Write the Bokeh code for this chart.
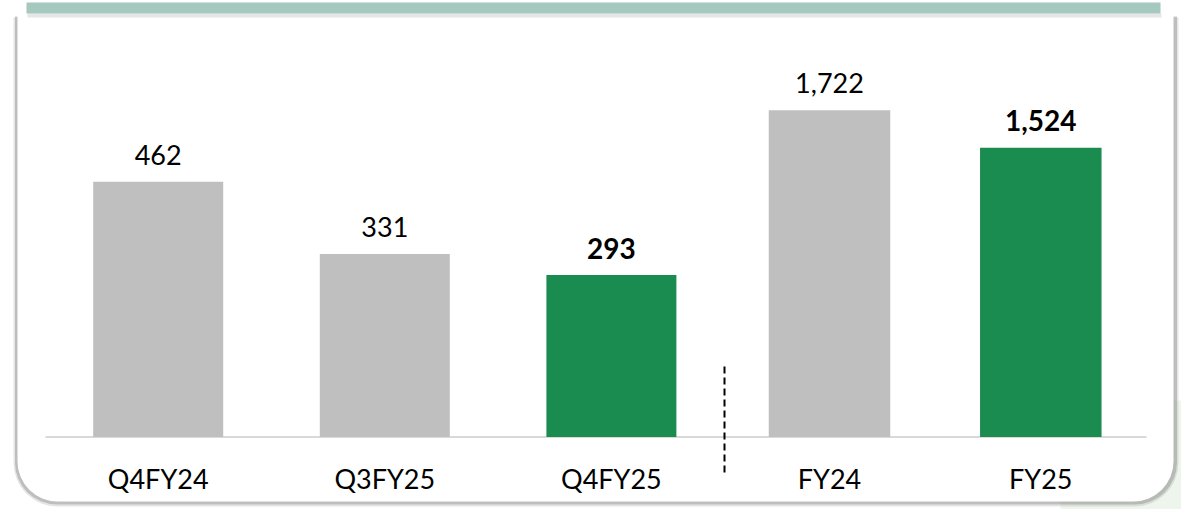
from bokeh.plotting import figure
from bokeh.models import Range1d, ColumnDataSource, BoxAnnotation
from bokeh.core.properties import value
from bokeh.embed import file_html
from bokeh.resources import INLINE

# ---------------- data ----------------
quarter_labels = ["Q4FY24", "Q3FY25", "Q4FY25"]
quarter_values = [462, 331, 293]
annual_labels = ["FY24", "FY25"]
annual_values = [1722, 1524]
highlight = ["Q4FY25", "FY25"]

# ---------------- style / layout ----------------
W, H = 1181, 509
GRAY = "#bfbfbf"
GREEN = "#1b8c50"
FONT = "Lato"

baseline_px = 436.5          # canvas y (from top) of the zero line
q_scale = 0.5525             # px per unit, quarterly panel
a_scale = 0.1898             # px per unit, annual panel
q_center0, q_step, q_bar_px = 157.7, 226.6, 130.0
a_center0, a_step, a_bar_px = 829.0, 211.3, 121.5

p = figure(width=W, height=H, output_backend="svg", toolbar_location=None,
           x_range=Range1d(-q_center0 / q_step, (W - q_center0) / q_step),
           y_range=Range1d(-(H - baseline_px) / q_scale, baseline_px / q_scale),
           x_axis_location=None, y_axis_location=None, min_border=0)
p.extra_x_ranges = {"annual": Range1d(-a_center0 / a_step, (W - a_center0) / a_step),
                    "px": Range1d(0, W)}
p.extra_y_ranges = {"annual": Range1d(-(H - baseline_px) / a_scale, baseline_px / a_scale),
                    "px": Range1d(0, H)}
p.grid.grid_line_color = None
p.outline_line_color = None
p.background_fill_color = "white"
p.border_fill_color = "white"


def cy(v):
    return H - v


def box(l, r, t, b, color, alpha=1.0, radius=0):
    p.add_layout(BoxAnnotation(left=l, right=r, top=cy(t), bottom=cy(b),
                               fill_color=color, fill_alpha=alpha, line_color=None,
                               border_radius=radius, level="underlay",
                               x_range_name="px", y_range_name="px"))


# page decoration: faint tint outside card, card shadow, card, header band
box(1060, W, 400, H, "#eef5ec")
box(13, 1178, 17, 506, "#b5b5b5", 0.35, (0, 0, 44, 44))
box(14.5, 1176.5, 16, 504, "#8f8f8f", 0.45, (0, 0, 42, 42))
box(17, 1173, 14, 501, "white", 1.0, (0, 0, 40, 40))
box(27, 1161, 13, 17, "#9a9a9a", 0.25)
box(26, 1160, 2, 13, "#a5c8bf")

# zero line and separator
p.segment(x0=[45], y0=[cy(baseline_px)], x1=[1146], y1=[cy(baseline_px)],
          line_color="#d9d9d9", line_width=2, x_range_name="px", y_range_name="px")
p.segment(x0=[724], y0=[cy(366)], x1=[724], y1=[cy(472)],
          line_color="black", line_width=2, line_dash="7 4",
          x_range_name="px", y_range_name="px")


def panel(labels, values, bar_width, xr, yr):
    src = ColumnDataSource(dict(
        x=list(range(len(labels))),
        top=values,
        cat=labels,
        color=[GREEN if c in highlight else GRAY for c in labels],
    ))
    kw = {}
    if xr:
        kw = dict(x_range_name=xr, y_range_name=yr)
    p.vbar(x="x", top="top", bottom=0, width=bar_width, fill_color="color",
           line_color=None, source=src, **kw)
    # category labels
    p.text(x="x", y=0, text="cat", source=src, text_font=value(FONT),
           text_font_size="27px", text_color="black", text_align="center",
           text_baseline="alphabetic", y_offset=41.5, **kw)
    # value labels
    reg = ColumnDataSource(dict(x=[i for i, c in enumerate(labels) if c not in highlight],
                                y=[v for c, v in zip(labels, values) if c not in highlight],
                                t=[f"{v:,}" for c, v in zip(labels, values) if c not in highlight]))
    bold = ColumnDataSource(dict(x=[i for i, c in enumerate(labels) if c in highlight],
                                 y=[v for c, v in zip(labels, values) if c in highlight],
                                 t=[f"{v:,}" for c, v in zip(labels, values) if c in highlight]))
    p.text(x="x", y="y", text="t", source=reg, text_font=value(FONT),
           text_font_size="27px", text_color="black", text_align="center",
           text_baseline="alphabetic", y_offset=-27, **kw)
    p.text(x="x", y="y", text="t", source=bold, text_font=value(FONT),
           text_font_size="28px", text_font_style="bold", text_color="black",
           text_align="center", text_baseline="alphabetic", y_offset=-27, **kw)


panel(quarter_labels, quarter_values, q_bar_px / q_step, None, None)
panel(annual_labels, annual_values, a_bar_px / a_step, "annual", "annual")

open("out.html", "w").write(file_html(p, INLINE))
